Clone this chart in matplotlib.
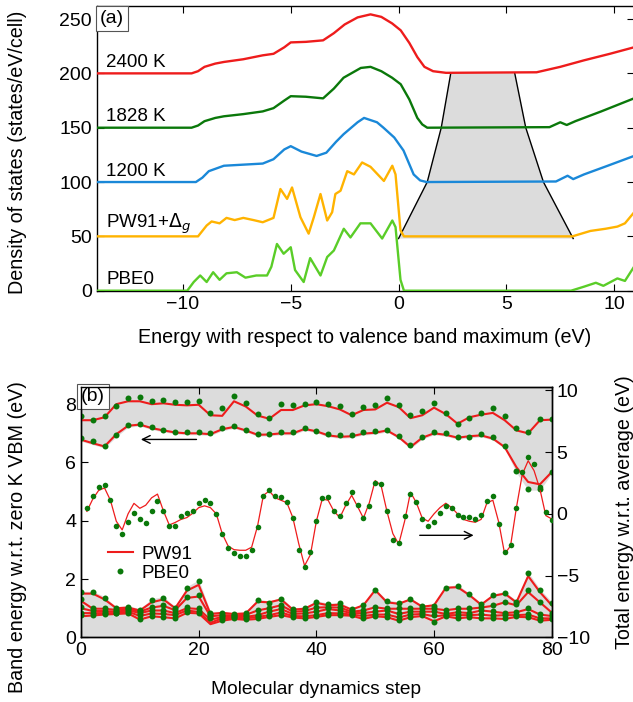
import numpy as np
import matplotlib
matplotlib.use('Agg')
import matplotlib.pyplot as plt
from matplotlib.lines import Line2D

plt.rcParams.update({'font.family': ['Liberation Sans', 'DejaVu Sans'], 'font.size': 14})

# ---------------- panel (a): density of states ----------------
e_2400 = [-14, -9.6, -9.3, -9.0, -8.5, -8.1, -7.2, -6.3, -5.8, -5.3, -5.0, -4.3, -3.5, -3.0, -2.5,
          -1.9, -1.3, -0.8, -0.3, 0.1, 0.5, 0.87, 1.2, 1.6, 2.2, 6.4, 7.5, 8.6, 9.8, 10.92]
d_2400 = [200, 200, 202, 206, 209, 210.5, 213, 216.6, 218, 224, 228.5, 229, 230.4, 237, 245,
          251.5, 254.3, 252, 246, 239.6, 228, 215, 206, 202, 200.5, 201, 206, 212, 218, 224]

e_1828 = [-14, -9.6, -9.3, -9.0, -8.5, -8.1, -7.2, -6.3, -5.8, -5.3, -5.0, -4.3, -3.5, -3.0, -2.55,
          -1.75, -1.3, -0.8, -0.3, 0.1, 0.5, 0.87, 1.1, 1.33, 7.0, 7.5, 7.8, 8.2, 9.4, 10.92]
d_1828 = [150, 150, 152, 156, 159, 160.5, 162.5, 165, 168, 175, 179, 178.5, 177, 186, 196,
          205, 206, 202, 196, 190, 176, 159, 153, 150, 150.5, 155, 152.5, 156, 165, 177]

e_1200 = [-14, -9.4, -9.1, -8.8, -8.1, -7.2, -6.3, -5.8, -5.3, -5.0, -4.5, -3.8, -3.35, -2.9, -2.55,
          -1.9, -1.6, -1.0, -0.7, -0.2, 0.23, 0.7, 1.0, 1.3, 7.3, 7.84, 8.1, 8.6, 9.7, 10.92]
d_1200 = [100, 100, 104, 110, 115, 116, 117, 121, 130, 133, 128, 124, 127, 137, 144,
          155, 159, 155, 150, 141, 129, 107, 101.5, 100, 100.5, 105.8, 102.7, 107, 115, 124]

e_pw91 = [-14, -9.3, -8.9, -8.67, -8.3, -7.98, -7.6, -7.2, -6.73, -6.3, -5.8, -5.48, -5.17, -4.94,
          -4.55, -4.17, -3.93, -3.62, -3.31, -3.08, -2.93, -2.69, -2.38, -2.07, -1.69, -1.3, -0.68,
          -0.29, -0.14, 0.09, 0.25, 8.06, 8.9, 9.6, 10.15, 10.5, 10.92]
d_pw91 = [50, 50, 60, 63.7, 62, 67, 65, 67, 65, 63, 67, 93.6, 84.5, 95,
          67.6, 52.5, 67.6, 89, 64.6, 72.2, 89, 92, 110, 107, 118, 114, 101,
          115, 107, 55.5, 50, 50, 55, 57, 59, 62, 72]

e_pbe0 = [-14, -9.8, -9.5, -9.2, -8.9, -8.6, -8.3, -7.98, -7.5, -7.1, -6.6, -6.1, -5.9, -5.64, -5.33,
          -5.0, -4.8, -4.4, -4.1, -3.62, -3.31, -3.0, -2.54, -2.23, -1.77, -1.3, -0.76, -0.29, -0.14,
          0.09, 0.25, 8.0, 8.6, 9.15, 9.5, 10.15, 10.5, 10.92]
d_pbe0 = [0, 0, 8, 14, 8, 17, 10, 16, 17, 12, 14, 14, 22, 43, 34,
          40, 19, 8, 30, 14, 31, 37, 57, 49, 62, 62, 48, 64.6, 58.5,
          10, 0, 0, 3.7, 7.3, 4.5, 11.3, 9, 22]

# band gap edges (shaded trapezoid)
gap_level = [48, 100, 150, 200]
gap_lo = [0.0, 1.33, 1.98, 2.42]
gap_hi = [8.1, 6.72, 5.9, 5.39]

curve_labels = ['2400 K', '1828 K', '1200 K', r'PW91+$\Delta_g$', 'PBE0']
label_y = [206, 156, 106, 58, 6]

# ---------------- panel (b): MD trajectory ----------------
steps2 = list(range(0, 81, 2))
steps1 = list(range(1, 81))

pbe_up1 = [7.58, 7.47, 7.58, 7.95, 8.22, 8.24, 8.1, 8.13, 8.09, 8.07, 8.1, 7.7, 7.88, 8.27, 8.03,
           7.65, 7.52, 8.01, 7.96, 8.01, 8.09, 8.01, 7.95, 7.67, 7.9, 7.96, 8.22, 7.96, 7.64, 7.76,
           8.03, 7.69, 7.33, 7.52, 7.7, 7.88, 7.61, 7.19, 7.04, 7.48, 7.5]
pw_up1 = [7.45, 7.45, 7.55, 8.0, 8.1, 8.1, 8.0, 8.03, 7.98, 7.96, 7.98, 7.62, 7.6, 8.1, 7.92,
          7.61, 7.5, 7.8, 7.8, 7.96, 8.0, 7.93, 7.82, 7.62, 7.8, 7.82, 8.05, 7.9, 7.52, 7.62,
          7.88, 7.66, 7.33, 7.55, 7.64, 7.7, 7.45, 7.1, 7.0, 7.45, 7.47]
pbe_up2 = [6.85, 6.73, 6.57, 6.93, 7.28, 7.31, 7.21, 7.12, 7.04, 7.04, 7.04, 7.01, 7.18, 7.25, 7.12,
           6.99, 6.99, 7.04, 7.04, 7.19, 7.09, 6.96, 6.93, 6.95, 7.03, 7.08, 7.13, 6.9, 6.59, 6.87,
           7.04, 7.02, 6.87, 6.89, 6.99, 6.87, 6.55, 5.7, 5.1, 5.1, 5.67]
pw_up2 = [6.78, 6.66, 6.55, 6.97, 7.26, 7.3, 7.18, 7.1, 7.03, 7.0, 7.0, 6.97, 7.14, 7.22, 7.1,
          6.95, 6.96, 7.0, 7.0, 7.15, 7.07, 6.93, 6.88, 6.9, 6.99, 7.02, 7.1, 6.87, 6.53, 6.85,
          7.0, 6.95, 6.85, 6.9, 6.93, 6.82, 6.53, 5.84, 5.33, 5.25, 5.67]

pbe_low = [
    [1.54, 1.54, 1.36, 1.0, 1.05, 0.94, 1.28, 1.36, 1.01, 1.7, 1.93, 0.85, 0.85, 0.8, 0.84,
     1.28, 1.16, 1.33, 0.97, 1.0, 1.22, 1.13, 1.16, 0.96, 1.11, 1.62, 1.24, 1.18, 1.3, 1.07,
     1.07, 1.7, 1.77, 1.47, 1.14, 1.45, 1.53, 1.22, 2.19, 1.62, 1.18],
    [1.3, 1.0, 1.0, 0.95, 1.0, 0.9, 1.05, 1.1, 0.95, 1.39, 1.45, 0.8, 0.78, 0.76, 0.78,
     0.95, 1.01, 1.12, 0.9, 0.92, 1.05, 1.05, 1.05, 0.9, 0.94, 1.05, 1.0, 1.0, 1.0, 1.0,
     1.01, 0.95, 1.0, 1.0, 1.05, 1.11, 1.22, 1.13, 1.62, 1.22, 0.85],
    [1.03, 0.93, 0.91, 0.9, 0.96, 0.85, 0.95, 0.94, 0.85, 1.05, 1.0, 0.75, 0.72, 0.72, 0.72,
     0.78, 0.9, 1.0, 0.82, 0.85, 0.9, 1.0, 0.95, 0.85, 0.85, 0.9, 0.94, 0.82, 0.9, 0.9,
     0.9, 0.82, 0.88, 0.85, 0.94, 0.9, 0.85, 0.88, 1.0, 0.8, 0.75],
    [0.85, 0.85, 0.85, 0.85, 0.9, 0.75, 0.85, 0.82, 0.78, 0.95, 0.9, 0.71, 0.67, 0.68, 0.67,
     0.72, 0.78, 0.88, 0.75, 0.75, 0.78, 0.85, 0.85, 0.8, 0.75, 0.8, 0.8, 0.7, 0.8, 0.82,
     0.75, 0.78, 0.78, 0.78, 0.8, 0.76, 0.78, 0.78, 0.8, 0.67, 0.67],
    [0.75, 0.78, 0.8, 0.82, 0.85, 0.63, 0.74, 0.71, 0.67, 0.88, 0.85, 0.65, 0.59, 0.65, 0.62,
     0.65, 0.72, 0.78, 0.7, 0.67, 0.72, 0.78, 0.78, 0.76, 0.65, 0.74, 0.71, 0.59, 0.71, 0.75,
     0.54, 0.74, 0.67, 0.71, 0.67, 0.67, 0.65, 0.72, 0.71, 0.59, 0.62],
]
pw_low = [
    [1.5, 1.5, 1.3, 1.0, 1.02, 0.92, 1.2, 1.3, 1.0, 1.6, 1.8, 0.8, 0.84, 0.8, 0.82,
     1.22, 1.2, 1.3, 0.95, 0.98, 1.18, 1.1, 1.12, 0.95, 1.1, 1.62, 1.2, 1.15, 1.3, 1.05,
     1.1, 1.7, 1.72, 1.45, 1.12, 1.42, 1.5, 1.2, 2.1, 1.55, 1.1],
    [1.25, 0.98, 0.98, 0.94, 0.98, 0.88, 1.02, 1.08, 0.93, 1.35, 1.4, 0.72, 0.76, 0.75, 0.77,
     0.92, 1.0, 1.1, 0.88, 0.9, 1.02, 1.03, 1.02, 0.88, 0.92, 1.03, 0.98, 0.98, 0.98, 0.98,
     0.98, 0.93, 0.98, 0.98, 1.02, 1.08, 1.2, 1.1, 1.55, 1.2, 0.85],
    [1.0, 0.9, 0.9, 0.88, 0.93, 0.83, 0.92, 0.92, 0.83, 1.0, 0.97, 0.6, 0.7, 0.7, 0.7,
     0.76, 0.88, 0.97, 0.8, 0.82, 0.88, 0.97, 0.92, 0.83, 0.83, 0.88, 0.92, 0.8, 0.88, 0.88,
     0.88, 0.8, 0.86, 0.83, 0.92, 0.88, 0.83, 0.86, 0.97, 0.78, 0.73],
    [0.83, 0.83, 0.83, 0.83, 0.88, 0.73, 0.82, 0.8, 0.76, 0.92, 0.87, 0.5, 0.65, 0.66, 0.65,
     0.7, 0.76, 0.85, 0.73, 0.72, 0.76, 0.83, 0.82, 0.78, 0.73, 0.78, 0.78, 0.68, 0.78, 0.8,
     0.72, 0.76, 0.76, 0.76, 0.78, 0.74, 0.76, 0.76, 0.78, 0.65, 0.65],
    [0.72, 0.75, 0.78, 0.8, 0.82, 0.61, 0.72, 0.69, 0.65, 0.84, 0.82, 0.45, 0.57, 0.63, 0.6,
     0.63, 0.7, 0.76, 0.68, 0.65, 0.7, 0.76, 0.76, 0.74, 0.63, 0.72, 0.69, 0.57, 0.69, 0.73,
     0.55, 0.72, 0.65, 0.69, 0.65, 0.65, 0.63, 0.7, 0.69, 0.57, 0.6],
]

pbe_tot = [0.45, 1.48, 2.16, 2.3, 1.15, -0.95, -1.62, -0.68, 0.05, -0.41,
           -0.75, 0.24, 1.05, 0.21, -0.97, -0.97, -0.2, 0.05, 0.2, 0.88,
           1.13, 0.88, 0.02, -1.62, -2.79, -3.19, -3.38, -3.38, -2.92, -1.08,
           1.48, 1.94, 1.43, 1.35, 0.95, -0.36, -2.89, -4.27, -3.05, -0.54,
           1.3, 1.4, 0.27, -0.19, 0.89, 1.74, 0.75, -0.37, 0.65, 2.48,
           2.43, 0.21, -2.14, -2.38, -0.19, 1.62, 0.94, -0.41, -1.0, -0.7,
           0.08, 0.67, 0.49, -0.06, -0.27, -0.27, -0.41, -0.08, 1.02, 1.43,
           -0.81, -3.11, -2.51, 0.46, 3.37, 4.59, 4.05, 2.2, 0.13, -0.49]
pw_tot = [0.2, 1.2, 1.9, 2.1, 1.1, -0.6, -1.3, 0.0, 0.85, 0.45,
          0.7, 1.3, 1.6, 0.25, -0.9, -0.7, -0.45, -0.3, 0.05, 0.5,
          0.65, 0.5, 0.0, -1.6, -2.6, -2.9, -2.95, -2.95, -2.7, -1.0,
          1.5, 1.85, 1.3, 1.1, 0.9, -0.3, -2.4, -4.2, -3.3, -0.6,
          1.2, 1.1, 0.2, -0.3, 0.7, 1.5, 0.6, -0.35, 0.9, 2.7,
          2.3, 0.2, -1.6, -2.45, -0.6, 1.75, 0.9, -0.35, -0.6, 0.0,
          0.5, 0.86, 0.5, 0.0, -0.45, -0.6, -0.68, -0.45, 0.9, 1.1,
          -0.68, -3.24, -2.6, 0.5, 3.2, 4.3, 3.5, 2.0, -0.14, -0.41]

RED = '#ee1c1c'
DKGREEN = '#0a780a'
BLUE = '#1a88d8'
ORANGE = '#ffb300'
LTGREEN = '#5acd28'
GRAY = '#dcdcdc'

W, H = 633, 702
fig = plt.figure(figsize=(W / 100, H / 100), dpi=100)

def px_axes(l, t, r, b):
    return [l / W, 1 - b / H, (r - l) / W, (b - t) / H]

tick_kw = dict(direction='in', length=5, width=0.8, labelsize=14)

# ---- (a) ----
ax = fig.add_axes(px_axes(96.7, 6, 634, 290.7))
ax.set_xlim(-14, 10.92)
ax.set_ylim(0, 262)
ax.fill(gap_lo + gap_hi[::-1], gap_level + gap_level[::-1], color=GRAY, lw=0, zorder=1)
ax.plot(gap_lo, gap_level, color='black', lw=1.0, zorder=2)
ax.plot(gap_hi, gap_level, color='black', lw=1.0, zorder=2)
for e, d, c in [(e_2400, d_2400, RED), (e_1828, d_1828, DKGREEN), (e_1200, d_1200, BLUE),
                (e_pw91, d_pw91, ORANGE), (e_pbe0, d_pbe0, LTGREEN)]:
    ax.plot(e, d, color=c, lw=1.7, zorder=3)
for lab, yy in zip(curve_labels, label_y):
    ax.text(-13.55, yy, lab, fontsize=13.5, va='baseline', ha='left')
ax.set_xticks([-10, -5, 0, 5, 10])
ax.set_xticklabels(['\u221210', '\u22125', '0', '5', '10'])
ax.set_yticks([0, 50, 100, 150, 200, 250])
ax.tick_params(axis='both', top=True, right=True, **tick_kw)
ax.spines['right'].set_visible(False)
for s in ax.spines.values():
    s.set_linewidth(1.0)
ax.text(0.006, 0.985, '(a)', transform=ax.transAxes, va='top', ha='left', fontsize=14,
        bbox=dict(boxstyle='square,pad=0.2', fc='white', ec='#555555', lw=0.8), zorder=5)
fig.text(364.5 / W, 1 - 338 / H, 'Energy with respect to valence band maximum (eV)',
         ha='center', va='center', fontsize=14.2)
fig.text(18 / W, 1 - 152 / H, 'Density of states (states/eV/cell)', rotation=90,
         ha='center', va='center', fontsize=14.2)

# ---- (b) ----
bx = fig.add_axes(px_axes(81, 386.7, 551.7, 637.3))
bx.set_xlim(0, 80)
bx.set_ylim(0, 8.6)
up_low = np.minimum(np.array(pw_up2), np.array(pbe_up2)) - 0.05
bx.fill_between(steps2, up_low, 8.6, color=GRAY, lw=0, zorder=1)
low_top = np.maximum(np.array(pw_low[0]), np.array(pbe_low[0])) + 0.04
bx.fill_between(steps2, 0, low_top, color=GRAY, lw=0, zorder=1)
for band in [pw_up1, pw_up2] + pw_low:
    bx.plot(steps2, band, color=RED, lw=1.5, zorder=3)
for band in [pbe_up1, pbe_up2] + pbe_low:
    bx.plot(steps2, band, 'o', color=DKGREEN, ms=4.3, mew=0, zorder=4)
bx.annotate('', xy=(9.7, 6.79), xytext=(20.1, 6.79),
            arrowprops=dict(arrowstyle='->', color='black', lw=1.0))
bx.annotate('', xy=(67.2, 3.5), xytext=(57.1, 3.5),
            arrowprops=dict(arrowstyle='->', color='black', lw=1.0))
bx.set_xticks([0, 20, 40, 60, 80])
bx.set_yticks([0, 2, 4, 6, 8])
bx.tick_params(axis='both', top=True, right=False, **tick_kw)
bx.text(0.0, 0.995, '(b)', transform=bx.transAxes, va='top', ha='left', fontsize=14,
        bbox=dict(boxstyle='square,pad=0.22', fc='white', ec='#555555', lw=0.8), zorder=6)

bx2 = bx.twinx()
bx2.set_ylim(-10, 10.3)
bx2.plot(steps1, pw_tot, color=RED, lw=0.9, zorder=3)
bx2.plot(steps1, pbe_tot, 'o', color=DKGREEN, ms=4.0, mew=0, zorder=4)
bx2.set_yticks([-10, -5, 0, 5, 10])
bx2.set_yticklabels(['\u221210', '\u22125', '0', '5', '10'])
bx2.tick_params(axis='y', **tick_kw)
for s in list(bx.spines.values()) + list(bx2.spines.values()):
    s.set_linewidth(1.0)

handles = [Line2D([], [], color=RED, lw=1.5),
           Line2D([], [], color=DKGREEN, marker='o', ls='none', ms=4.3, mew=0)]
bx2.legend(handles, ['PW91', 'PBE0'], loc='lower left', bbox_to_anchor=(0.03, 0.17),
           frameon=False, fontsize=13.5, handlelength=1.3, handletextpad=0.5,
           labelspacing=0.1, borderpad=0.2)

fig.text(316 / W, 1 - 690 / H, 'Molecular dynamics step', ha='center', va='center', fontsize=13.8)
fig.text(18 / W, 1 - 537 / H, 'Band energy w.r.t. zero K VBM (eV)', rotation=90,
         ha='center', va='center', fontsize=14.2)
fig.text(624 / W, 1 - 512 / H, 'Total energy w.r.t. average (eV)', rotation=90,
         ha='center', va='center', fontsize=14.2)

fig.savefig('out.png', dpi=100)
